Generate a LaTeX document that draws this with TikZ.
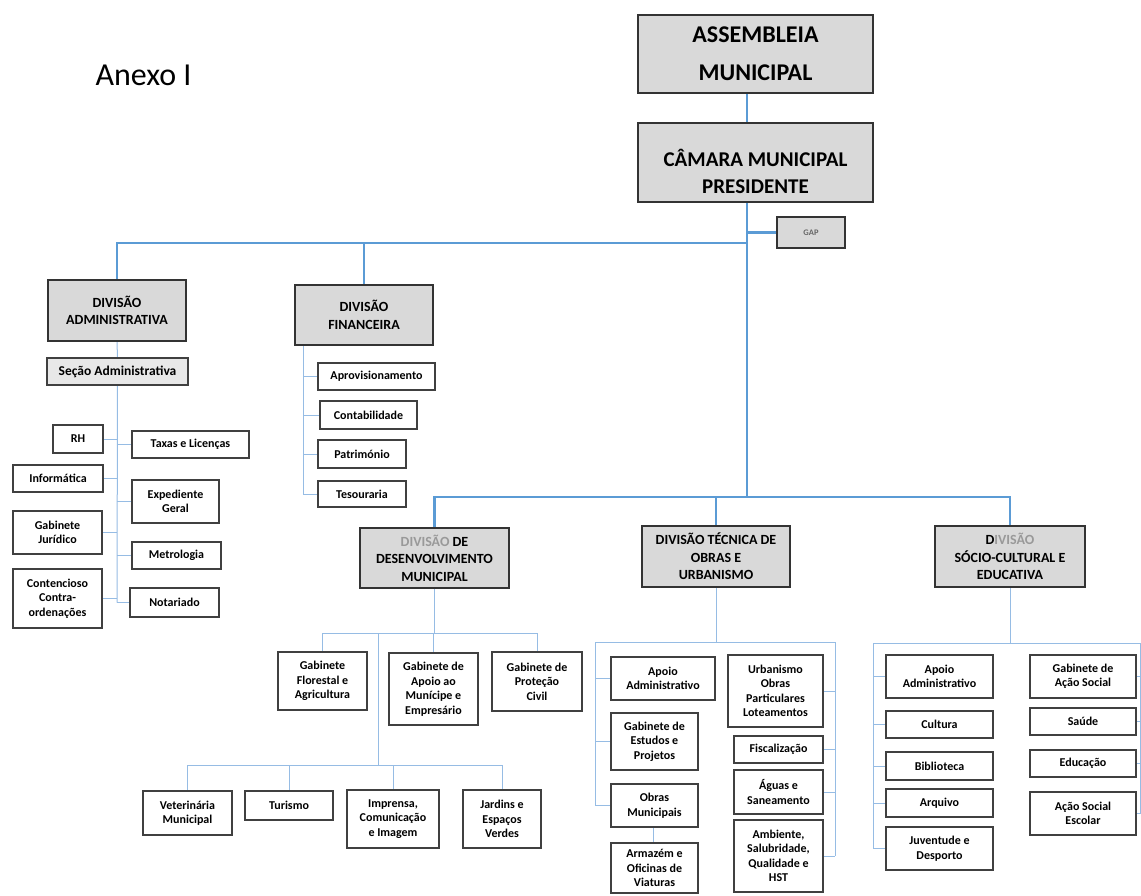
\documentclass[tikz,border=0pt]{standalone}
\usepackage{fontspec}
\setmainfont{Carlito}
\usetikzlibrary{backgrounds}
\definecolor{linkblue}{RGB}{91,155,213}
\definecolor{sublinkblue}{RGB}{150,188,228}
\definecolor{boxgray}{RGB}{217,217,217}

\begin{document}
\begin{tikzpicture}[x=1pt, y=-1pt,
    topbox/.style = {draw=black!80, line width=1.6pt, fill=boxgray, align=center,
      font=\fontsize{24}{38}\selectfont\bfseries, inner sep=0pt},
    divbox/.style = {draw=black!80, line width=1.4pt, fill=boxgray, align=center,
      font=\fontsize{14}{17.5}\selectfont\bfseries, inner sep=0pt},
    unitbox/.style = {draw=black!75, line width=1.1pt, fill=white, align=center,
      font=\fontsize{12}{14.5}\selectfont\bfseries, inner sep=0pt},
    mainlink/.style = {draw=linkblue, line width=2.2pt},
    sublink/.style = {draw=sublinkblue, line width=1pt},
  ]
  \useasboundingbox (0,0) rectangle (1141,896);

  \node[font=\fontsize{32}{34}\selectfont, anchor=west] (title) at (92,75) {Anexo I};

  % top of the tree
  \node[topbox, minimum width=235, minimum height=78] (asm) at (755.5,54) {ASSEMBLEIA\\MUNICIPAL};
  \node[topbox, minimum width=235, minimum height=79, font=\fontsize{21}{27}\selectfont\bfseries]
    (cam) at (755.5,162.5)
    {\raisebox{-12pt}[\height][\depth]{\begin{tabular}{@{}c@{}}CÂMARA MUNICIPAL\\PRESIDENTE\end{tabular}}};
  \node[divbox, minimum width=68, minimum height=31, line width=1.2pt,
    font=\fontsize{8.5}{10}\selectfont\bfseries, text=black!60] (gap) at (811,232.5) {GAP};

  \coordinate (spine) at (747,243);
  \coordinate (split) at (747,497);

  % divisions
  \node[divbox, minimum width=138, minimum height=61] (dadm) at (117,310.5) {DIVISÃO\\ADMINISTRATIVA};
  \node[divbox, minimum width=138, minimum height=60] (dfin) at (364,315) {DIVISÃO\\FINANCEIRA};
  \node[divbox, minimum width=149, minimum height=60] (ddes) at (434.5,558)
    {{\color{black!40}DIVISÃO} DE\\DESENVOLVIMENTO\\MUNICIPAL};
  \node[divbox, minimum width=148, minimum height=61] (dtec) at (716,556.5)
    {DIVISÃO TÉCNICA DE\\OBRAS E\\URBANISMO};
  \node[divbox, minimum width=150, minimum height=61] (dsoc) at (1010,556.5)
    {D{\color{black!40}IVISÃO}\\SÓCIO-CULTURAL E\\EDUCATIVA};

  % administrativa
  \node[unitbox, fill=boxgray!60, minimum width=141, minimum height=27,
    font=\fontsize{13.5}{15}\selectfont\bfseries] (secadm) at (117.5,371.5) {Seção Administrativa};
  \node[unitbox, minimum width=50, minimum height=28] (rh) at (78,439) {RH};
  \node[unitbox, minimum width=90, minimum height=27] (inform) at (58,478.5) {Informática};
  \node[unitbox, minimum width=89, minimum height=43] (gabjur) at (57.5,532.5) {Gabinete\\Jurídico};
  \node[unitbox, minimum width=89, minimum height=59] (contenc) at (57.5,598.5) {Contencioso\\Contra-\\ordenações};
  \node[unitbox, minimum width=117, minimum height=27] (taxas) at (190.5,444.5) {Taxas e Licenças};
  \node[unitbox, minimum width=87, minimum height=43] (exped) at (175.5,501.5) {Expediente\\Geral};
  \node[unitbox, minimum width=89, minimum height=27] (metro) at (176.5,555.5) {Metrologia};
  \node[unitbox, minimum width=89, minimum height=29] (notar) at (174.5,602.5) {Notariado};
  \coordinate (admend) at (117,602.5);

  % financeira
  \node[unitbox, minimum width=117, minimum height=27] (aprov) at (376.5,376.5) {Aprovisionamento};
  \node[unitbox, minimum width=97, minimum height=28] (contab) at (368.5,415) {Contabilidade};
  \node[unitbox, minimum width=88, minimum height=28] (patrim) at (362,454) {Património};
  \node[unitbox, minimum width=88, minimum height=26] (tesour) at (362,494) {Tesouraria};
  \coordinate (finrail) at (303,345);

  % desenvolvimento municipal
  \node[unitbox, minimum width=89, minimum height=58] (flor) at (322.5,681) {Gabinete\\Florestal e\\Agricultura};
  \node[unitbox, minimum width=89, minimum height=72] (apoiomun) at (433.5,689) {Gabinete de\\Apoio ao\\Munícipe e\\Empresário};
  \node[unitbox, minimum width=90, minimum height=59] (protec) at (537,681.5) {Gabinete de\\Proteção\\Civil};
  \node[unitbox, minimum width=89, minimum height=44] (veter) at (187.5,813) {Veterinária\\Municipal};
  \node[unitbox, minimum width=88, minimum height=29] (turismo) at (289,805.5) {Turismo};
  \node[unitbox, minimum width=92, minimum height=58] (imprensa) at (393,819) {Imprensa,\\Comunicação\\e Imagem};
  \node[unitbox, minimum width=78, minimum height=58] (jardins) at (502,819) {Jardins e\\Espaços\\Verdes};
  \coordinate (desrow) at (434.5,633);
  \coordinate (desdrop) at (378,633);
  \coordinate (deslow) at (378,765);

  % obras e urbanismo
  \node[unitbox, minimum width=104, minimum height=43] (apoiotec) at (663,678.5) {Apoio\\Administrativo};
  \node[unitbox, minimum width=87, minimum height=57] (gabest) at (654.5,741.5) {Gabinete de\\Estudos e\\Projetos};
  \node[unitbox, minimum width=87, minimum height=43] (obrasmun) at (654.5,805.5) {Obras\\Municipais};
  \node[unitbox, minimum width=87, minimum height=50] (armazem) at (654.5,868) {Armazém e\\Oficinas de\\Viaturas};
  \node[unitbox, minimum width=95, minimum height=72] (urban) at (775.5,691) {Urbanismo\\Obras\\Particulares\\Loteamentos};
  \node[unitbox, minimum width=89, minimum height=27] (fiscal) at (778.5,749.5) {Fiscalização};
  \node[unitbox, minimum width=89, minimum height=44] (aguas) at (778.5,792) {Águas e\\Saneamento};
  \node[unitbox, minimum width=89, minimum height=72] (ambiente) at (778.5,856) {Ambiente,\\Salubridade,\\Qualidade e\\HST};
  \coordinate (tecleft) at (595,642);
  \coordinate (tecright) at (835,642);

  % socio-cultural e educativa
  \node[unitbox, minimum width=107, minimum height=43] (apoiosoc) at (939.5,676.5) {Apoio\\Administrativo};
  \node[unitbox, minimum width=107, minimum height=27] (cultura) at (939.5,724.5) {Cultura};
  \node[unitbox, minimum width=107, minimum height=28] (bibl) at (939.5,766) {Biblioteca};
  \node[unitbox, minimum width=107, minimum height=28] (arquivo) at (939.5,803) {Arquivo};
  \node[unitbox, minimum width=107, minimum height=43] (juvent) at (939.5,848.5) {Juventude e\\Desporto};
  \node[unitbox, minimum width=106, minimum height=43] (gabacao) at (1083,676.5) {Gabinete de\\Ação Social};
  \node[unitbox, minimum width=106, minimum height=27] (saude) at (1083,721.5) {Saúde};
  \node[unitbox, minimum width=106, minimum height=27] (educ) at (1083,763.5) {Educação};
  \node[unitbox, minimum width=106, minimum height=43] (acaoesc) at (1083,813.5) {Ação Social\\Escolar};
  \coordinate (socleft) at (873,643);
  \coordinate (socright) at (1140,643);

  \begin{scope}[on background layer]
    \draw[mainlink] (asm.south -| spine) -- (cam.north -| spine);
    \draw[mainlink] (cam.south -| spine) -- (split);
    \draw[mainlink] (gap.west -| spine) -- (gap.west);
    \draw[mainlink] (dadm.north) -- (dadm.north |- spine) -- (spine);
    \draw[mainlink] (dfin.north) -- (dfin.north |- spine);
    \draw[mainlink] (ddes.north) -- (ddes.north |- split) -- (dsoc.north |- split) -- (dsoc.north);
    \draw[mainlink] (dtec.north |- split) -- (dtec.north);

    \draw[sublink] (dadm.south) -- (secadm.north);
    \draw[sublink] (secadm.south) -- (admend);
    \foreach \n in {rh, inform, gabjur, contenc}
      \draw[sublink] (\n.east) -- (\n.east -| admend);
    \foreach \n in {taxas, exped, metro, notar}
      \draw[sublink] (\n.west) -- (\n.west -| admend);

    \draw[sublink] (finrail) -- (finrail |- tesour.west);
    \foreach \n in {aprov, contab, patrim, tesour}
      \draw[sublink] (\n.west) -- (\n.west -| finrail);

    \draw[sublink] (ddes.south) -- (desrow);
    \draw[sublink] (flor.north) -- (flor.north |- desrow) -- (protec.north |- desrow) -- (protec.north);
    \draw[sublink] (apoiomun.north) -- (apoiomun.north |- desrow);
    \draw[sublink] (desdrop) -- (deslow);
    \draw[sublink] (veter.north) -- (veter.north |- deslow) -- (jardins.north |- deslow) -- (jardins.north);
    \foreach \n in {turismo, imprensa}
      \draw[sublink] (\n.north) -- (\n.north |- deslow);

    \draw[sublink] (dtec.south) -- (dtec.south |- tecleft);
    \draw[sublink] (obrasmun.west -| tecleft) -- (tecleft) -- (tecright) -- (ambiente.east -| tecright);
    \foreach \n in {apoiotec, gabest, obrasmun}
      \draw[sublink] (\n.west) -- (\n.west -| tecleft);
    \foreach \n in {urban, fiscal, aguas, ambiente}
      \draw[sublink] (\n.east) -- (\n.east -| tecright);
    \draw[sublink] (obrasmun.south -| 653,0) -- (armazem.north -| 653,0);

    \draw[sublink] (dsoc.south) -- (dsoc.south |- socleft);
    \draw[sublink] (juvent.west -| socleft) -- (socleft) -- (socright) -- (acaoesc.east -| socright);
    \foreach \n in {apoiosoc, cultura, bibl, arquivo, juvent}
      \draw[sublink] (\n.west) -- (\n.west -| socleft);
    \foreach \n in {gabacao, saude, educ, acaoesc}
      \draw[sublink] (\n.east) -- (\n.east -| socright);
  \end{scope}
\end{tikzpicture}
\end{document}
